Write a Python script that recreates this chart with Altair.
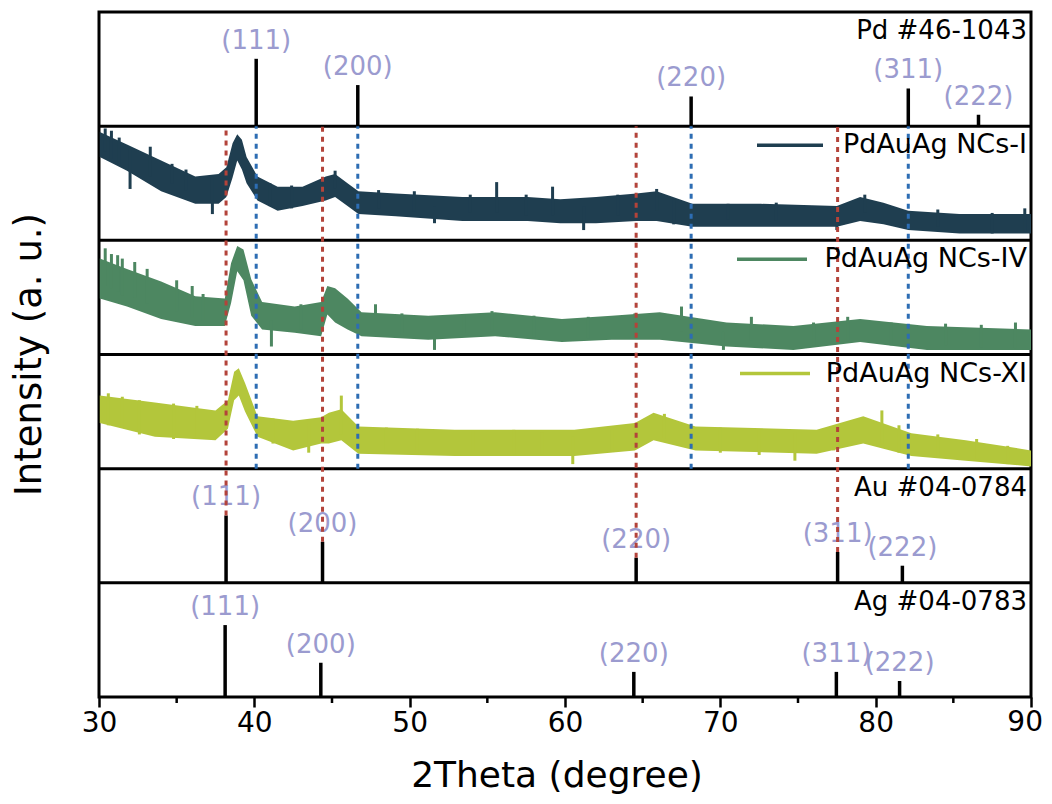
import altair as alt
import pandas as pd

# ---------------- data ----------------
hkl = ["(111)", "(200)", "(220)", "(311)", "(222)"]

pd_pos = [40.12, 46.66, 68.12, 82.10, 86.62]
pd_int = [59, 36, 26, 33, 10]
au_pos = [38.18, 44.39, 64.58, 77.55, 81.72]
au_int = [59, 36, 22, 27, 15]
ag_pos = [38.12, 44.28, 64.43, 77.47, 81.54]
ag_int = [63, 30, 22, 22, 14]

ref_names = ["Pd #46-1043", "Au #04-0784", "Ag #04-0783"]
series_names = ["PdAuAg NCs-I", "PdAuAg NCs-IV", "PdAuAg NCs-XI"]
series_colors = ["#1f3e50", "#4d8761", "#b3c63b"]

# noisy-band envelopes (lower / upper), per panel, 0-100 scale
s1_x = [30.05, 31.8, 34.0, 36.2, 37.7, 38.2, 38.6, 38.9, 39.2, 39.5, 40.2, 41.5, 43.1, 44.6, 45.2, 46.0,
        46.7, 49.1, 53.4, 57.6, 59.7, 62.0, 64.6, 65.9, 68.2, 72.6, 77.5, 79.0, 80.5, 82.1, 85.4, 90.0]
s1_lo = [73, 61, 43, 32, 32, 38, 55, 70, 62, 50, 35, 26, 30, 35, 38, 30,
         23, 21, 17, 17, 15, 15, 17, 17, 12, 12, 12, 17, 14, 9, 6, 6]
s1_hi = [95, 84, 70, 56, 58, 64, 85, 93, 88, 73, 56, 47, 47, 56, 58, 50,
         43, 41, 38, 38, 36, 38, 41, 43, 32, 32, 30, 38, 33, 26, 23, 23]

s2_x = [30.05, 31.8, 34.0, 36.2, 38.1, 38.5, 38.9, 39.3, 39.8, 40.5, 42.6, 44.3, 44.7, 45.2, 46.0, 46.9,
        51.2, 55.5, 59.8, 63.0, 66.1, 70.4, 74.7, 79.0, 83.3, 90.0]
s2_lo = [49, 42, 31, 25, 25, 45, 73, 65, 34, 22, 19, 16, 35, 28, 22, 16,
         13, 16, 11, 13, 13, 7, 4, 11, 4, 4]
s2_hi = [84, 75, 64, 51, 49, 80, 95, 92, 66, 46, 42, 46, 60, 58, 49, 37,
         34, 37, 31, 34, 37, 28, 25, 31, 25, 22]

s3_x = [30.05, 33.6, 37.5, 38.3, 38.7, 39.0, 39.4, 40.2, 42.5, 44.3, 44.8, 45.6, 46.7, 52.9, 60.6, 64.5,
        65.7, 68.4, 76.2, 79.2, 82.3, 85.8, 90.0]
s3_lo = [40, 28, 25, 35, 60, 64, 50, 28, 16, 22, 22, 25, 13, 11, 11, 16,
         25, 16, 13, 22, 11, 7, 2]
s3_hi = [64, 58, 51, 60, 85, 88, 75, 46, 42, 45, 49, 52, 37, 34, 34, 40,
         49, 37, 34, 46, 31, 25, 16]

# individual noise spikes: position, bottom, top (0-100 per panel)
k1_x = [30.4, 30.8, 31.3, 32.0, 33.3, 34.7, 35.6, 37.3, 41.0, 42.4, 45.2, 48.0, 50.3, 51.6, 53.9,
        55.6, 57.5, 59.2, 61.2, 63.4, 65.9, 67.0, 70.5, 73.6, 77.5, 79.3, 84.0, 87.5, 89.6]
k1_lo = [78, 72, 66, 45, 56, 50, 44, 23, 30, 28, 45, 28, 25, 15, 24,
         24, 22, 22, 9, 22, 26, 14, 18, 17, 9, 24, 12, 6, 8]
k1_hi = [98, 96, 90, 80, 82, 67, 62, 56, 50, 48, 61, 44, 43, 30, 40,
         51, 40, 47, 30, 40, 45, 36, 32, 33, 28, 40, 27, 24, 28]

k2_x = [30.4, 30.8, 31.2, 31.5, 32.3, 33.1, 35.0, 36.0, 36.7, 41.1, 43.0, 47.8, 49.5, 51.6, 53.5,
        55.3, 58.0, 61.5, 64.5, 67.5, 70.2, 72.0, 76.0, 78.2, 81.0, 84.5, 86.8, 89.0]
k2_lo = [60, 58, 55, 52, 50, 45, 38, 32, 30, 7, 22, 20, 18, 4, 18,
         20, 15, 14, 16, 20, 4, 12, 8, 12, 8, 8, 6, 5]
k2_hi = [93, 88, 87, 84, 81, 75, 65, 60, 53, 30, 44, 44, 36, 20, 35,
         38, 34, 33, 36, 42, 20, 33, 28, 33, 28, 27, 26, 28]

k3_x = [30.6, 31.5, 32.6, 34.8, 36.3, 41.2, 43.5, 45.6, 48.5, 50.5, 54.1, 56.7, 58.5, 60.5, 63.0,
        66.4, 70.0, 72.5, 74.8, 77.3, 80.4, 81.5, 84.0, 86.5, 88.5]
k3_lo = [38, 36, 30, 26, 28, 22, 14, 30, 14, 14, 15, 12, 12, 4, 15,
         26, 14, 12, 7, 16, 22, 14, 10, 8, 4]
k3_hi = [66, 63, 60, 57, 55, 44, 40, 64, 36, 35, 33, 34, 32, 28, 34,
         48, 36, 34, 32, 36, 51, 38, 30, 26, 20]

major_ticks = [30, 40, 50, 60, 70, 80, 90]
minor_ticks = [35, 45, 55, 65, 75, 85]

# ---------------- layout constants ----------------
W, H = 932, 685
PAD_R = 13
PANEL = 100.0               # data units per panel
PX_PER_UNIT = H / 600.0
FONT = "DejaVu Sans"
LABEL_COLOR = "#9b9bcf"
RED = "#b3433a"
BLUE = "#2d6db3"
TICK_LEN = 10
LABEL_PAD = 2
LABEL_SIZE = 28

# panel bases (bottom) : Ag 0, Au 100, XI 200, IV 300, I 400, Pd 500
bases_ref = [500, 100, 0]
bases_ser = [400, 300, 200]

xscale = alt.Scale(domain=[30, 90], nice=False, zero=False)
yscale = alt.Scale(domain=[0, 600], nice=False, zero=False)
last_tick = major_ticks[-1]
xaxis = alt.Axis(values=major_ticks, tickSize=TICK_LEN, tickWidth=2.5, tickColor="black",
                 labelFontSize=LABEL_SIZE, labelFont=FONT, labelColor="black", labelPadding=LABEL_PAD,
                 labelExpr=f"datum.value == {last_tick} ? '' : datum.label",
                 domain=False, grid=False, title=None, labelFlush=False)


def X(f):
    return alt.X(f, type="quantitative", scale=xscale, axis=xaxis)


def Y(f):
    return alt.Y(f, type="quantitative", scale=yscale, axis=None)


color = alt.Color("series:N", scale=alt.Scale(domain=series_names, range=series_colors), legend=None)

# curves (envelope bands)
rows = []
for name, xs, lo, hi, b in zip(series_names, [s1_x, s2_x, s3_x], [s1_lo, s2_lo, s3_lo],
                               [s1_hi, s2_hi, s3_hi], bases_ser):
    for a, l, h in zip(xs, lo, hi):
        rows.append({"x": a, "lo": b + l, "hi": b + h, "series": name})
curves = pd.DataFrame(rows)

areas = alt.Chart(curves).mark_area(opacity=1, interpolate="linear").encode(
    x=X("x"), y=Y("lo"), y2="hi", color=color, detail="series:N")

# spikes
krows = []
for name, xs, lo, hi, b in zip(series_names, [k1_x, k2_x, k3_x], [k1_lo, k2_lo, k3_lo],
                               [k1_hi, k2_hi, k3_hi], bases_ser):
    for a, l, h in zip(xs, lo, hi):
        krows.append({"x": a, "lo": b + l, "hi": b + h, "series": name})
spikes_df = pd.DataFrame(krows)
spikes = alt.Chart(spikes_df).mark_rule(strokeWidth=3).encode(
    x=X("x"), y=Y("lo"), y2="hi", color=color)

# stick patterns
srows = []
for ph, pos, ints, b in zip(["Pd", "Au", "Ag"], [pd_pos, au_pos, ag_pos], [pd_int, au_int, ag_int], bases_ref):
    for k, p, i in zip(hkl, pos, ints):
        srows.append({"x": p, "y0": b, "y1": b + i, "hkl": k, "phase": ph})
sticks_df = pd.DataFrame(srows)

sticks = alt.Chart(sticks_df).mark_rule(color="black", strokeWidth=3.5).encode(
    x=X("x"), y=Y("y0"), y2="y1")
labels = alt.Chart(sticks_df).mark_text(font=FONT, fontSize=26, color=LABEL_COLOR, dy=-18,
                                        baseline="middle", align="center").encode(
    x=X("x"), y=Y("y1"), text="hkl:N")

# dashed guide lines
red_df = pd.DataFrame({"x": au_pos[:4], "y0": [100 + v for v in au_int[:4]], "y1": [500] * 4})
blue_df = pd.DataFrame({"x": pd_pos[:4], "y0": [200] * 4, "y1": [500] * 4})
red = alt.Chart(red_df).mark_rule(color=RED, strokeWidth=3, strokeDash=[5, 5]).encode(
    x=X("x"), y=Y("y0"), y2="y1")
blue = alt.Chart(blue_df).mark_rule(color=BLUE, strokeWidth=3, strokeDash=[5, 5]).encode(
    x=X("x"), y=Y("y0"), y2="y1")

# panel separators
sep = alt.Chart(pd.DataFrame({"y": [100, 200, 300, 400, 500]})).mark_rule(
    color="black", strokeWidth=3).encode(y=Y("y"))

# reference names
names_df = pd.DataFrame({"name": ref_names, "y": [b + PANEL for b in bases_ref]})
names = alt.Chart(names_df).mark_text(font=FONT, fontSize=26, color="black", align="right",
                                      baseline="middle", dy=19).encode(
    x=alt.value(W - 4), y=Y("y"), text="name:N")

# in-panel legends
leg_df = pd.DataFrame({"series": series_names,
                       "y": [b + PANEL - 19 / PX_PER_UNIT for b in bases_ser],
                       "x1": [658, 638, 641], "x2": [724, 708, 711]})
leg_text = alt.Chart(leg_df).mark_text(font=FONT, fontSize=27, color="black", align="right",
                                       baseline="middle").encode(
    x=alt.value(W - 4), y=Y("y"), text="series:N")
leg_line = alt.Chart(leg_df).mark_rule(strokeWidth=3.5).encode(
    x=alt.X("x1:Q", scale=None, axis=None), x2="x2:Q", y=Y("y"), color=color)

# minor ticks
minor = alt.Chart(pd.DataFrame({"x": minor_ticks})).mark_rule(color="black", strokeWidth=2.5).encode(
    x=X("x"), y=alt.value(H), y2=alt.value(H + 6))

# last tick label, kept inside the canvas
last_lbl = alt.Chart(pd.DataFrame({"t": [str(last_tick)]})).mark_text(
    font=FONT, fontSize=LABEL_SIZE, color="black", align="right", baseline="top").encode(
    x=alt.value(W + PAD_R - 1), y=alt.value(H + TICK_LEN + LABEL_PAD), text="t:N")

# axis titles
xtitle = alt.Chart(pd.DataFrame({"t": ["2Theta (degree)"]})).mark_text(
    font=FONT, fontSize=36, color="black", align="center", baseline="middle").encode(
    x=alt.value(458), y=alt.value(764), text="t:N")
ytitle = alt.Chart(pd.DataFrame({"t": ["Intensity (a. u.)"]})).mark_text(
    font=FONT, fontSize=37, color="black", align="center", baseline="middle", angle=270).encode(
    x=alt.value(-69), y=alt.value(H / 2), text="t:N")

chart = alt.layer(areas, spikes, sep, sticks, labels, red, blue, names, leg_line, leg_text, minor,
                  last_lbl, xtitle, ytitle).properties(
    width=W, height=H,
    background="white",
    autosize=alt.AutoSizeParams(type="none"),
    padding={"left": 91, "top": 4, "right": PAD_R, "bottom": 99},
).configure_view(stroke="black", strokeWidth=3)

chart.save("out.html", embed_options={"renderer": "svg", "actions": False})
